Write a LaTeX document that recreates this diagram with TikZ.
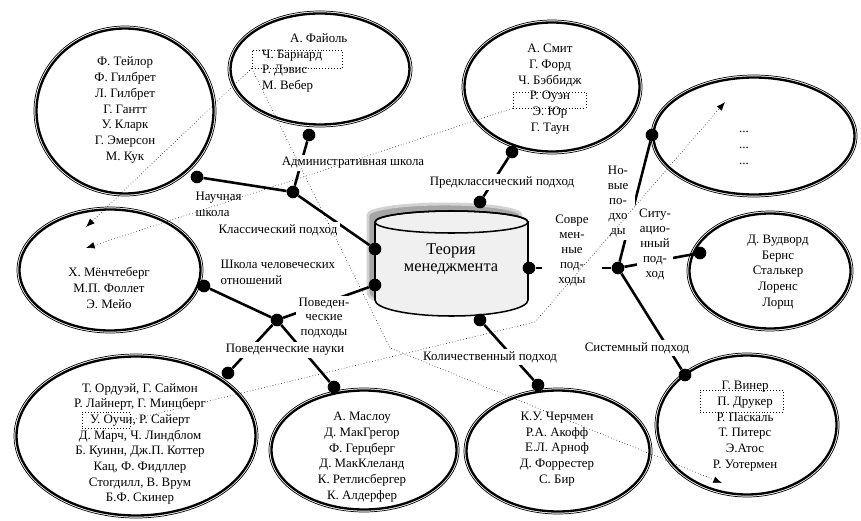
\documentclass[tikz,border=0pt]{standalone}
\usepackage{fontspec}
\setmainfont{Liberation Serif}
\usetikzlibrary{shapes.geometric, arrows.meta}

\newcommand{\namefont}{\fontsize{11}{13.4}\selectfont}
\newcommand{\titlefont}{\fontsize{14}{14.6}\selectfont}

\tikzset{
	oval/.style={shape=ellipse, draw, line width=2pt, inner sep=0pt},
	ring/.style={line width=0.6pt},
	names/.style={align=center, font=\namefont, inner sep=0pt},
	caption/.style={align=center, font=\namefont, fill=white, inner sep=2pt},
	knot/.style={shape=circle, fill, inner sep=0pt, minimum size=3.8mm},
	branch/.style={line width=2.2pt},
	link/.style={dotted, line width=0.5pt, -{Latex[length=2.6mm, width=2mm]}},
	markbox/.style={shape=rectangle, draw, dotted, line width=0.5pt, inner sep=0pt},
}

\begin{document}
\begin{tikzpicture}[x=0.3mm, y=-0.3mm]
	\useasboundingbox (0,0) rectangle (861,520);
	% Ellipses of the schools:
	\foreach \n/\cx/\cy/\a/\b in {taylor/125/111/92/86, fayol/320/69/93/59, smith/552/87/91/68, more/754/136/104/62, wood/770/271/84/61, human/110/270/94/64, ordway/136/436/123/83, maslow/364/450/96/63, church/558/451/95/64, wiener/747/425/93/73}{
		\draw[ring] (\cx,\cy) ellipse ({\a-1} and {\b-1});
		\node[oval, minimum width={0.6mm*(\a-3.5)}, minimum height={0.6mm*(\b-3.5)}] (\n) at (\cx,\cy){};
	}
	% Cylinder with its shadow:
	\draw[gray!35, line width=2.5pt, fill=gray!70] (368,215) -- (368,293) arc[start angle=180, end angle=0, x radius=76.5, y radius=16] -- (521,215) arc[start angle=0, end angle=-180, x radius=76.5, y radius=11] -- cycle;
	\draw[fill=black!6, line width=1.3pt] (375,222) -- (375,300) arc[start angle=180, end angle=0, x radius=76.5, y radius=16] -- (528,222) arc[start angle=0, end angle=-180, x radius=76.5, y radius=11] -- cycle;
	\draw[line width=1.3pt] (451.5,222) ellipse (76.5 and 11);
	\node[font=\titlefont, align=center] (theory) at (451,259){Теория\\менеджмента};
	% Dots and branches:
	\node[knot] (cylTop) at (480,202){};
	\node[knot] (cylUL) at (375,249){};
	\node[knot] (cylLL) at (375,285){};
	\node[knot] (cylR) at (529,268){};
	\node[knot] (cylB) at (480,320){};
	\node[knot] (j1) at (293,192){};
	\node[knot] (j2) at (277,320){};
	\node[knot] (j3) at (618,268){};
	\node[knot] (taylorDot) at (197,177){};
	\node[knot] (fayolDot) at (309,135){};
	\node[knot] (smithDot) at (512,152){};
	\node[knot] (moreDot) at (652,135){};
	\node[knot] (woodDot) at (700,253){};
	\node[knot] (humanDot) at (204,286){};
	\node[knot] (ordwayDot) at (228,373){};
	\node[knot] (maslowDot) at (334,387){};
	\node[knot] (churchDot) at (538,385){};
	\node[knot] (wienerDot) at (685,375){};
	\draw[branch] (taylorDot) -- (j1);
	\draw[branch] (fayolDot) -- (j1);
	\draw[branch] (j1) -- (cylUL);
	\draw[branch] (smithDot) -- (cylTop);
	\draw[branch] (humanDot) -- (j2);
	\draw[branch] (j2) -- (ordwayDot);
	\draw[branch] (j2) -- (maslowDot);
	\draw[branch] (j2) -- (cylLL);
	\draw[branch] (cylR) -- (j3);
	\draw[branch] (j3) -- (moreDot);
	\draw[branch] (j3) -- (woodDot);
	\draw[branch] (j3) -- (wienerDot);
	\draw[branch] (cylB) -- (churchDot);
	% Branch captions:
	\node[caption] (admLabel) at (353,163){Административная школа};
	\node[caption, align=left, anchor=west] (sciLabel) at (193,204.5){Научная\\школа};
	\node[caption] (clsLabel) at (278,230){Классический подход};
	\node[caption, align=left, anchor=west] (hrLabel) at (218,272.5){Школа человеческих\\отношений};
	\node[caption, font=\fontsize{11}{12.4}\selectfont] (bhaLabel) at (324,318){Поведен-\\ческие\\подходы};
	\node[caption] (bhsLabel) at (285,350){Поведенческие науки};
	\node[caption] (qntLabel) at (490,357){Количественный подход};
	\node[caption] (preLabel) at (502,182){Предклассический подход};
	\node[caption, font=\fontsize{11}{12.8}\selectfont, inner xsep=4mm] (modLabel) at (572,250){Совре\\мен-\\ные\\под-\\ходы};
	\node[caption, font=\fontsize{11}{12.8}\selectfont, text width=9mm] (newLabel) at (618,202){Но-\\вые\\по-\\дхо\\ды};
	\node[caption, font=\fontsize{11}{12.8}\selectfont] (sitLabel) at (655,244){Ситу-\\ацио-\\нный\\под-\\ход};
	\node[caption] (sysLabel) at (637,348){Системный подход};
	% Names in the ellipses:
	\node[names] (taylorNames) at (125,110){Ф. Тейлор\\Ф. Гилбрет\\Л. Гилбрет\\Г. Гантт\\У. Кларк\\Г. Эмерсон\\М. Кук};
	\node[names, align=left, anchor=west] (fayolNames) at (262,63){\hspace*{8.4mm}А. Файоль\\Ч. Барнард\\Р. Дэвис\\М. Вебер};
	\node[names] (smithNames) at (550,89){А. Смит\\Г. Форд\\Ч. Бэббидж\\Р. Оуэн\\Э. Юр\\Г. Таун};
	\node[names] (moreNames) at (744,148){...\\...\\...};
	\node[names] (woodNames) at (778,272){Д. Вудворд\\Бернс\\Сталькер\\Лоренс\\Лорщ};
	\node[names] (humanNames) at (109,288){Х. Мёнчтеберг\\М.П. Фоллет\\Э. Мейо};
	\node[names] (ordwayNames) at (140,444){Т. Ордуэй, Г. Саймон\\Р. Лайнерт, Г. Минцберг\\У. Оучи, Р. Сайерт\\Д. Марч, Ч. Линдблом\\Б. Куинн, Дж.П. Коттер\\Кац, Ф. Фидллер\\Стогдилл, В. Врум\\Б.Ф. Скинер};
	\node[names] (maslowNames) at (362,457){А. Маслоу\\Д. МакГрегор\\Ф. Герцберг\\Д. МакКлеланд\\К. Ретлисбергер\\К. Алдерфер};
	\node[names] (churchNames) at (557,449){К.У. Черчмен\\Р.А. Акофф\\Е.Л. Арноф\\Д. Форрестер\\С. Бир};
	\node[names] (wienerNames) at (745,426){Г. Винер\\П. Друкер\\Р. Паскаль\\Т. Питерс\\Э.Атос\\Р. Уотермен};
	% Dotted boxes and links:
	\node[markbox, minimum width=27mm, minimum height=5.4mm] (barnardBox) at (297,59){};
	\node[markbox, minimum width=21.9mm, minimum height=4.8mm] (owenBox) at (549.5,100){};
	\node[markbox, minimum width=14.4mm, minimum height=4.8mm] (ouchiBox) at (106,420){};
	\node[markbox, minimum width=24.9mm, minimum height=6.6mm] (druckerBox) at (741.5,401){};
	\coordinate (hrTipA) at (86,227);
	\coordinate (hrTipB) at (86,248);
	\coordinate (bendSys) at (390,348);
	\coordinate (sysTip) at (722,483);
	\coordinate (bendMore) at (535,322);
	\coordinate (moreTip) at (725,102);
	\draw[link] (barnardBox.south west) -- (hrTipA);
	\draw[link] (barnardBox.south west) -- (bendSys) -- (sysTip);
	\draw[link] (owenBox.south west) -- (hrTipB);
	\draw[link] (ouchiBox.east) -- (bendMore) -- (moreTip);
\end{tikzpicture}
\end{document}
